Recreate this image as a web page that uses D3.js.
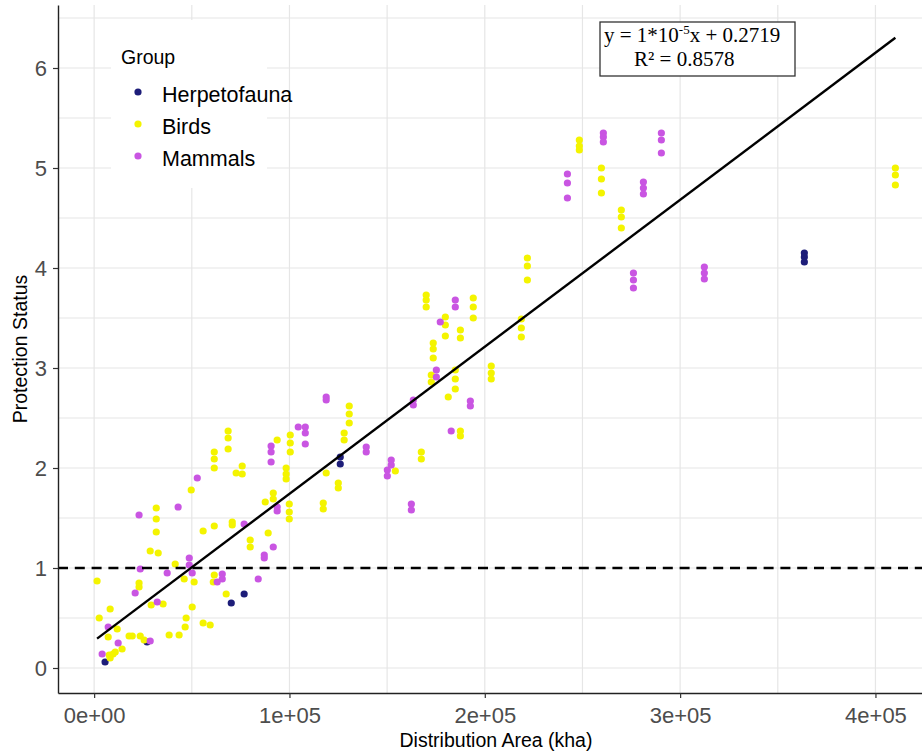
<!DOCTYPE html>
<html>
<head>
<meta charset="utf-8">
<script src="https://cdn.jsdelivr.net/npm/d3@7"></script>
<style>
  body { margin: 0; background: #fff; }
  svg { display: block; }
  text { font-family: "Liberation Sans", Arial, sans-serif; }
  text.serif { font-family: "Liberation Serif", "Times New Roman", serif; }
</style>
</head>
<body>
<script>
// distribution area (kha) and protection status
const herpX = [5600, 27100, 70200, 76800, 126000, 126000, 363600, 363600, 363600];
const herpY = [0.06, 0.26, 0.65, 0.74, 2.11, 2.04, 4.15, 4.11, 4.06];

const birdX = [
  1500, 2600, 8200, 11800, 7200, 17900, 19500, 23600, 25600, 38400, 43500, 14300, 10800, 9700, 7700, 8200,
  23000, 23000, 29200, 35300, 50200, 47100, 46600, 55800, 59400, 28700, 32800, 31800, 31800, 31800, 41500,
  46100, 51200, 61500, 61000, 67600, 49700, 55800, 61500, 61500, 61500, 61500, 68600, 68600, 68600, 72700,
  75800, 75800, 70700, 70700, 79900, 79900, 89100, 91700, 91700, 87600, 93700, 100400, 100400, 100400,
  98300, 98300, 98300, 99900, 99900, 99900, 117300, 117300, 118800, 125000, 125000, 128000, 128000,
  130600, 130600, 130600, 154200, 167500, 167500, 172600, 172600, 173600, 173600, 173600, 170000, 170000,
  170000, 179800, 179800, 179800, 181300, 184900, 184900, 184900, 187500, 187500, 187500, 187500, 194100,
  194100, 194100, 203300, 203300, 203300, 218700, 218700, 218700, 221800, 221800, 221800, 248400, 248400,
  248400, 259700, 259700, 259700, 269900, 269900, 269900, 410200, 410200, 410200
];
const birdY = [
  0.87, 0.50, 0.59, 0.39, 0.31, 0.32, 0.32, 0.32, 0.28, 0.33, 0.33, 0.19, 0.16, 0.14, 0.13, 0.10,
  0.85, 0.81, 0.63, 0.64, 0.61, 0.50, 0.41, 0.45, 0.43, 1.17, 1.15, 1.60, 1.49, 1.36, 1.04,
  0.89, 0.86, 0.93, 0.86, 0.74, 1.78, 1.37, 1.42, 2.16, 2.09, 2.00, 2.37, 2.30, 2.19, 1.95,
  2.02, 1.94, 1.46, 1.43, 1.28, 1.21, 1.35, 1.75, 1.69, 1.66, 2.28, 2.33, 2.25, 2.16,
  2.00, 1.94, 1.89, 1.64, 1.56, 1.49, 1.65, 1.59, 1.95, 1.85, 1.80, 2.35, 2.28,
  2.62, 2.54, 2.45, 1.97, 2.16, 2.09, 2.93, 2.86, 3.25, 3.19, 3.10, 3.73, 3.68,
  3.61, 3.51, 3.43, 3.32, 2.71, 2.98, 2.89, 2.79, 3.38, 3.30, 2.37, 2.32, 3.70,
  3.61, 3.50, 3.02, 2.95, 2.89, 3.49, 3.40, 3.31, 4.10, 4.02, 3.88, 5.28, 5.22,
  5.18, 5.00, 4.89, 4.75, 4.58, 4.51, 4.40, 5.00, 4.93, 4.83
];

const mammalX = [
  4100, 7200, 12300, 28700, 21000, 32300, 23600, 23000, 37400, 43000, 48700, 48700, 50200, 52800,
  65600, 65600, 63000, 76800, 84000, 87100, 87100, 91700, 90600, 90600, 90600, 93700, 93700, 104500,
  108100, 108100, 108100, 118800, 118800, 139300, 139300, 150100, 150100, 152100, 152100, 162400, 162400,
  163400, 163400, 175200, 175200, 177200, 182800, 184900, 184900, 192600, 192600, 242300, 242300, 242300,
  260700, 260700, 260700, 276100, 276100, 276100, 281200, 281200, 281200, 290400, 290400, 290400,
  312400, 312400, 312400
];
const mammalY = [
  0.14, 0.41, 0.25, 0.27, 0.75, 0.66, 0.99, 1.53, 0.95, 1.61, 1.10, 1.03, 0.95, 1.90,
  0.94, 0.89, 0.86, 1.44, 0.89, 1.13, 1.10, 1.21, 2.22, 2.16, 2.06, 1.61, 1.57, 2.41,
  2.41, 2.35, 2.24, 2.71, 2.68, 2.21, 2.16, 1.98, 1.92, 2.08, 2.03, 1.64, 1.58,
  2.68, 2.63, 2.98, 2.91, 3.46, 2.37, 3.68, 3.61, 2.67, 2.62, 4.94, 4.85, 4.70,
  5.35, 5.31, 5.26, 3.95, 3.88, 3.80, 4.86, 4.80, 4.74, 5.35, 5.28, 5.15,
  4.01, 3.95, 3.89
];

const groups = ["Herpetofauna", "Birds", "Mammals"];
const groupColors = ["#1d1d79", "#f4f400", "#c955e2"];

const xTicks = [0, 100000, 200000, 300000, 400000];
const xTickLabels = ["0e+00", "1e+05", "2e+05", "3e+05", "4e+05"];
const yTicks = [0, 1, 2, 3, 4, 5, 6];
const yTickLabels = ["0", "1", "2", "3", "4", "5", "6"];

// lm fit shown in the box (slope printed rounded as 1*10^-5)
const fitIntercept = 0.2719;
const fitSlope = 1.47e-5;
const fitR2 = 0.8578;
const threshold = 1;

const width = 922;
const height = 752;
const panelLeft = 58, panelTop = 5, panelBottom = 693;

const x = d3.scaleLinear([-18500, 431000], [panelLeft, 936]);
const y = d3.scaleLinear([-0.25, 6.63], [panelBottom, panelTop]);

const ys = [herpY, birdY, mammalY];
const series = [herpX, birdX, mammalX].map((xs, k) => ({
  name: groups[k],
  color: groupColors[k],
  points: xs.map((v, i) => [v, ys[k][i]])
}));

const svg = d3.create("svg")
  .attr("width", width)
  .attr("height", height)
  .attr("viewBox", [0, 0, width, height]);

// major + minor grid
const grid = svg.append("g").attr("stroke", "#e6e6e6").attr("stroke-width", 1.2);
grid.selectAll(".gx")
  .data(x.ticks(10))
  .join("line")
  .attr("x1", d => x(d)).attr("x2", d => x(d))
  .attr("y1", panelTop).attr("y2", panelBottom);
grid.selectAll(".gy")
  .data(y.ticks(14))
  .join("line")
  .attr("x1", panelLeft).attr("x2", width)
  .attr("y1", d => y(d)).attr("y2", d => y(d));

// legend background sits inside the panel
svg.append("rect")
  .attr("x", 111).attr("y", 20)
  .attr("width", 156).attr("height", 168)
  .attr("fill", "#fff");

// points
svg.append("g")
  .selectAll("g")
  .data(series)
  .join("g")
  .attr("fill", d => d.color)
  .selectAll("circle")
  .data(d => d.points)
  .join("circle")
  .attr("cx", d => x(d[0]))
  .attr("cy", d => y(d[1]))
  .attr("r", 3.6);

// threshold line
svg.append("line")
  .attr("x1", panelLeft).attr("x2", width)
  .attr("y1", y(threshold)).attr("y2", y(threshold))
  .attr("stroke", "#000")
  .attr("stroke-width", 2.4)
  .attr("stroke-dasharray", "10,6.8");

// regression line over the data range
const xr = d3.extent(series.flatMap(s => s.points.map(p => p[0])));
svg.append("path")
  .datum(xr.map(v => [v, fitIntercept + fitSlope * v]))
  .attr("fill", "none")
  .attr("stroke", "#000")
  .attr("stroke-width", 2.4)
  .attr("d", d3.line(d => x(d[0]), d => y(d[1])));

// axes
const xAxis = svg.append("g")
  .attr("transform", `translate(0,${panelBottom})`)
  .call(d3.axisBottom(x).tickValues(xTicks).tickFormat((d, i) => xTickLabels[i]).tickSize(5).tickPadding(9).tickSizeOuter(0));
const yAxis = svg.append("g")
  .attr("transform", `translate(${panelLeft},0)`)
  .call(d3.axisLeft(y).tickValues(yTicks).tickFormat((d, i) => yTickLabels[i]).tickSize(5).tickPadding(6).tickSizeOuter(0));

for (const a of [xAxis, yAxis]) {
  a.select(".domain").attr("stroke", "#222").attr("stroke-width", 1.4);
  a.selectAll(".tick line").attr("stroke", "#333").attr("stroke-width", 1.2);
  a.selectAll(".tick text")
    .attr("fill", "#4d4d4d")
    .style("font-size", "22px")
    .style("font-family", "'Liberation Sans', Arial, sans-serif");
}

// axis titles
svg.append("text")
  .attr("x", 496).attr("y", 747)
  .attr("text-anchor", "middle")
  .style("font-size", "19.5px")
  .text("Distribution Area (kha)");
svg.append("text")
  .attr("transform", `translate(27,${(panelTop + panelBottom) / 2}) rotate(-90)`)
  .attr("text-anchor", "middle")
  .style("font-size", "19.5px")
  .text("Protection Status");

// legend
const legend = svg.append("g");
legend.append("text")
  .attr("x", 121).attr("y", 64)
  .style("font-size", "19.5px")
  .text("Group");
const item = legend.selectAll(".item")
  .data(series)
  .join("g")
  .attr("transform", (d, i) => `translate(0,${92 + i * 32})`);
item.append("circle")
  .attr("cx", 138).attr("cy", 0).attr("r", 3.6)
  .attr("fill", d => d.color);
item.append("text")
  .attr("x", 162).attr("y", 10)
  .style("font-size", "21.5px")
  .text(d => d.name);

// equation box
const eq = svg.append("g");
eq.append("rect")
  .attr("x", 600).attr("y", 22)
  .attr("width", 195).attr("height", 54)
  .attr("fill", "#fff")
  .attr("stroke", "#333")
  .attr("stroke-width", 1.3);
const line1 = eq.append("text")
  .attr("class", "serif")
  .attr("x", 604).attr("y", 42)
  .style("font-size", "21px");
line1.append("tspan").text("y = 1*10");
line1.append("tspan").attr("dy", -8).style("font-size", "13px").text("-5");
line1.append("tspan").attr("dy", 8).text(`x + ${fitIntercept}`);
eq.append("text")
  .attr("class", "serif")
  .attr("x", 634).attr("y", 66)
  .style("font-size", "21px")
  .text(`R\u00b2 = ${fitR2}`);

document.body.appendChild(svg.node());
</script>
</body>
</html>
